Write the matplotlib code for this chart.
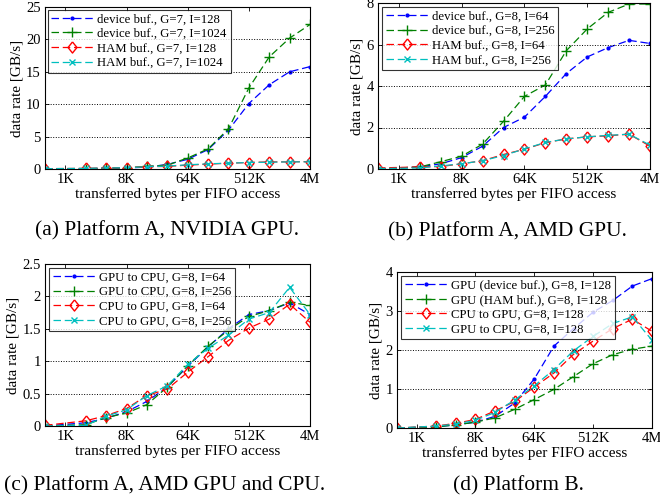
import matplotlib
matplotlib.use("Agg")
import matplotlib.pyplot as plt
import numpy as np

plt.rcParams['font.family'] = ['Liberation Serif', 'DejaVu Serif']

# x: transferred bytes per FIFO access (powers of two)
x_bytes = [2**9, 2**11, 2**12, 2**13, 2**14, 2**15, 2**16, 2**17, 2**18, 2**19, 2**20, 2**21, 2**22]
xtick_vals = [2**10, 2**13, 2**16, 2**19, 2**22]
xtick_labels = ['1K', '8K', '64K', '512K', '4M']

# (a) Platform A, NVIDIA GPU
a_labels = ['device buf., G=7, I=128', 'device buf., G=7, I=1024',
            'HAM buf., G=7, I=128', 'HAM buf., G=7, I=1024']
a_dev128 = [0, 0.05, 0.1, 0.15, 0.3, 0.7, 1.5, 3.0, 6.0, 10.1, 13.0, 15.0, 15.8]
a_dev1024 = [0, 0.05, 0.1, 0.2, 0.4, 0.6, 1.7, 3.1, 6.2, 12.5, 17.3, 20.2, 22.3]
a_ham128 = [0.05, 0.1, 0.15, 0.2, 0.35, 0.4, 0.6, 0.75, 0.9, 1.0, 1.1, 1.1, 1.15]
a_ham1024 = [0.05, 0.1, 0.15, 0.2, 0.35, 0.45, 0.65, 0.8, 0.9, 1.0, 1.05, 1.1, 1.1]

# (b) Platform A, AMD GPU
b_labels = ['device buf., G=8, I=64', 'device buf., G=8, I=256',
            'HAM buf., G=8, I=64', 'HAM buf., G=8, I=256']
b_dev64 = [0, 0.1, 0.25, 0.55, 1.1, 2.0, 2.5, 3.5, 4.6, 5.4, 5.85, 6.2, 6.05]
b_dev256 = [0, 0.1, 0.35, 0.62, 1.2, 2.3, 3.5, 4.05, 5.7, 6.75, 7.55, 7.95, 7.95]
b_ham64 = [0.05, 0.1, 0.12, 0.25, 0.4, 0.7, 0.95, 1.27, 1.45, 1.55, 1.6, 1.68, 1.1]
b_ham256 = [0.02, 0.05, 0.15, 0.25, 0.4, 0.65, 0.97, 1.28, 1.45, 1.55, 1.62, 1.68, 1.15]

# (c) Platform A, AMD GPU and CPU
c_labels = ['GPU to CPU, G=8, I=64', 'GPU to CPU, G=8, I=256',
            'CPU to GPU, G=8, I=64', 'CPU to GPU, G=8, I=256']
c_g2c64 = [0, 0.05, 0.12, 0.22, 0.38, 0.6, 0.92, 1.22, 1.5, 1.72, 1.78, 1.9, 1.72]
c_g2c256 = [0, 0.02, 0.13, 0.2, 0.33, 0.6, 0.93, 1.23, 1.48, 1.69, 1.78, 1.91, 1.86]
c_c2g64 = [0.01, 0.08, 0.16, 0.27, 0.47, 0.57, 0.83, 1.07, 1.32, 1.51, 1.65, 1.88, 1.6]
c_c2g256 = [0, 0.01, 0.15, 0.25, 0.47, 0.62, 0.95, 1.2, 1.4, 1.65, 1.75, 2.14, 1.72]

# (d) Platform B
d_labels = ['GPU (device buf.), G=8, I=128', 'GPU (HAM buf.), G=8, I=128',
            'CPU to GPU, G=8, I=128', 'GPU to CPU, G=8, I=128']
d_dev = [0, 0.03, 0.08, 0.15, 0.3, 0.64, 1.26, 2.1, 2.55, 2.97, 3.27, 3.64, 3.83]
d_ham = [0, 0.03, 0.08, 0.15, 0.26, 0.48, 0.73, 0.99, 1.32, 1.65, 1.88, 2.02, 2.1]
d_c2g = [0, 0.05, 0.12, 0.22, 0.44, 0.68, 1.05, 1.41, 1.89, 2.23, 2.55, 2.79, 2.48]
d_g2c = [0, 0.05, 0.1, 0.2, 0.4, 0.72, 1.08, 1.5, 1.98, 2.35, 2.68, 2.85, 2.25]

captions = ['(a) Platform A, NVIDIA GPU.', '(b) Platform A, AMD GPU.',
            '(c) Platform A, AMD GPU and CPU.', '(d) Platform B.']

W, H = 660, 495
fig = plt.figure(figsize=(6.6, 4.95), dpi=100)

def add_ax(l, t, r, b):
    return fig.add_axes([l / W, 1 - b / H, (r - l) / W, (b - t) / H])

diamond = [(0, 1), (0.8, 0), (0, -1), (-0.8, 0), (0, 1)]
styles = [dict(color='#0000ff', marker='.', ms=4),
          dict(color='#008000', marker='+', ms=7, mew=1.0),
          dict(color='#ff0000', marker=diamond, ms=8, mfc='none', mew=1.0),
          dict(color='#00bfbf', marker='x', ms=5, mew=1.0)]

panels = [
    ((45, 7, 310, 169), [a_dev128, a_dev1024, a_ham128, a_ham1024], a_labels,
     [0, 5, 10, 15, 20, 25], ['0', '5', '10', '15', '20', '25'], (0, 25), 0.2),
    ((378, 3, 650, 169), [b_dev64, b_dev256, b_ham64, b_ham256], b_labels,
     [0, 2, 4, 6, 8], ['0', '2', '4', '6', '8'], (0, 8), 0.3),
    ((45, 264, 310, 426), [c_g2c64, c_g2c256, c_c2g64, c_c2g256], c_labels,
     [0, 0.5, 1, 1.5, 2, 2.5], ['0', '0.5', '1', '1.5', '2', '2.5'], (0, 2.5), 0.3),
    ((397, 272, 652, 428), [d_dev, d_ham, d_c2g, d_g2c], d_labels,
     [0, 1, 2, 3, 4], ['0', '1', '2', '3', '4'], (0, 4), 0.3),
]

cap_pos = [(167, 231), (507, 232), (165, 486), (518, 486)]

for i, (box, series, labels, yt, ytl, ylim, bap) in enumerate(panels):
    ax = add_ax(*box)
    for s, lab, st in zip(series, labels, styles):
        ax.plot(x_bytes, s, linestyle='--', lw=0.9, label=lab, dashes=(6, 3), **st)
    ax.set_xscale('log', base=2)
    ax.set_xlim(2**9, 2**22)
    ax.set_ylim(*ylim)
    ax.set_xticks(xtick_vals)
    ax.set_xticklabels(xtick_labels)
    ax.minorticks_off()
    ax.set_yticks(yt)
    ax.set_yticklabels(ytl)
    ax.tick_params(direction='in', labelsize=10.5, length=3, width=0.6, top=True, right=True, pad=3)
    for sp in ax.spines.values():
        sp.set_linewidth(0.8)
    ax.yaxis.grid(True, linestyle=':', color='black', lw=0.7)
    ax.set_axisbelow(False)
    ax.set_ylabel('data rate [GB/s]', fontsize=11, labelpad=2)
    ax.set_xlabel('transferred bytes per FIFO access', fontsize=11, labelpad=1)
    leg = ax.legend(loc='upper left', fontsize=9.2, frameon=True, fancybox=False,
                    edgecolor='black', handlelength=3.3, borderpad=0.3,
                    labelspacing=0.2, handletextpad=0.3, borderaxespad=bap)
    leg.get_frame().set_linewidth(0.8)
    cx, cy = cap_pos[i]
    fig.text(cx / W, 1 - cy / H, captions[i], ha='center', va='center', fontsize=15.5)

fig.savefig('out.png', dpi=100)
